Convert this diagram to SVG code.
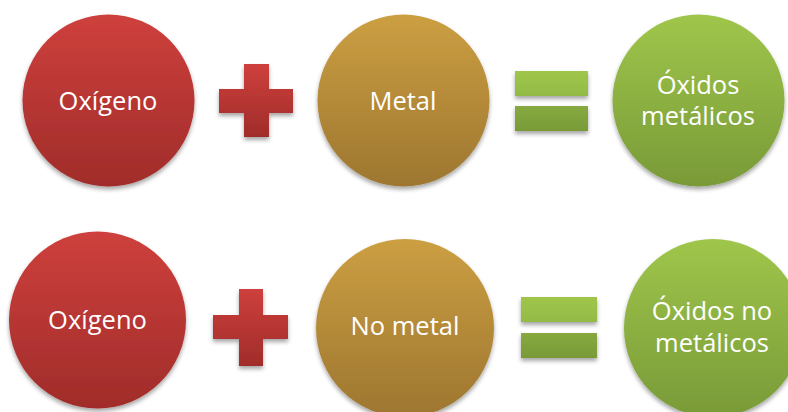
<svg xmlns="http://www.w3.org/2000/svg" width="788" height="412" viewBox="0 0 788 412">
<defs>
<linearGradient id="gRed" x1="0" y1="0" x2="0" y2="1"><stop offset="0" stop-color="#ce403c"/><stop offset="1" stop-color="#a02c2a"/></linearGradient>
<linearGradient id="gGold" x1="0" y1="0" x2="0" y2="1"><stop offset="0" stop-color="#cc9f42"/><stop offset="1" stop-color="#9d7630"/></linearGradient>
<linearGradient id="gGreen" x1="0" y1="0" x2="0" y2="1"><stop offset="0" stop-color="#9fc64b"/><stop offset="1" stop-color="#799a38"/></linearGradient>
<linearGradient id="gEqTop" x1="0" y1="0" x2="0" y2="1"><stop offset="0" stop-color="#9fc64b"/><stop offset="1" stop-color="#93ba45"/></linearGradient>
<linearGradient id="gEqBot" x1="0" y1="0" x2="0" y2="1"><stop offset="0" stop-color="#86aa3f"/><stop offset="1" stop-color="#799a38"/></linearGradient>
<filter id="sh" x="-20%" y="-20%" width="140%" height="150%"><feDropShadow dx="0" dy="3" stdDeviation="2.2" flood-color="#000" flood-opacity="0.35"/></filter>
</defs>
<style>
text{font-family:"Open Sans","Noto Sans","Liberation Sans",sans-serif;font-size:25.5px;fill:#fff;text-anchor:middle}
.red{fill:url(#gRed)}
.gold{fill:url(#gGold)}
.green{fill:url(#gGreen)}
.eqt{fill:url(#gEqTop)}
.eqb{fill:url(#gEqBot)}
.s{filter:url(#sh)}
</style>
<g id="oxigeno1"><circle class="red s" cx="108.5" cy="100.5" r="86"/><text x="108" y="110">Oxígeno</text></g>
<g id="plus1" class="s"><path class="red" d="M244 64H269V89H293V113H269V137H244V113H219V89H244Z"/></g>
<g id="metal"><circle class="gold s" cx="403.5" cy="100.5" r="86"/><text x="403" y="110">Metal</text></g>
<g id="equals1" class="s"><rect class="eqt" x="515" y="71" width="73" height="25"/><rect class="eqb" x="515" y="106" width="73" height="25"/></g>
<g id="oxidos-metalicos"><circle class="green s" cx="698.5" cy="100.5" r="86"/><text x="698" y="94">Óxidos</text><text x="698" y="125">metálicos</text></g>
<g id="oxigeno2"><circle class="red s" cx="97.5" cy="320" r="88.5"/><text x="97.5" y="329">Oxígeno</text></g>
<g id="plus2" class="s"><path class="red" d="M239 289H263V315H288V339H263V366H239V339H213V315H239Z"/></g>
<g id="nometal"><circle class="gold s" cx="405" cy="328" r="89"/><text x="405" y="335">No metal</text></g>
<g id="equals2" class="s"><rect class="eqt" x="521" y="297" width="76" height="25"/><rect class="eqb" x="521" y="333" width="76" height="25"/></g>
<g id="oxidos-no-metalicos"><circle class="green s" cx="713" cy="328" r="89"/><text x="712" y="320">Óxidos no</text><text x="712" y="352">metálicos</text></g>
<g id="connectors"/>
</svg>
